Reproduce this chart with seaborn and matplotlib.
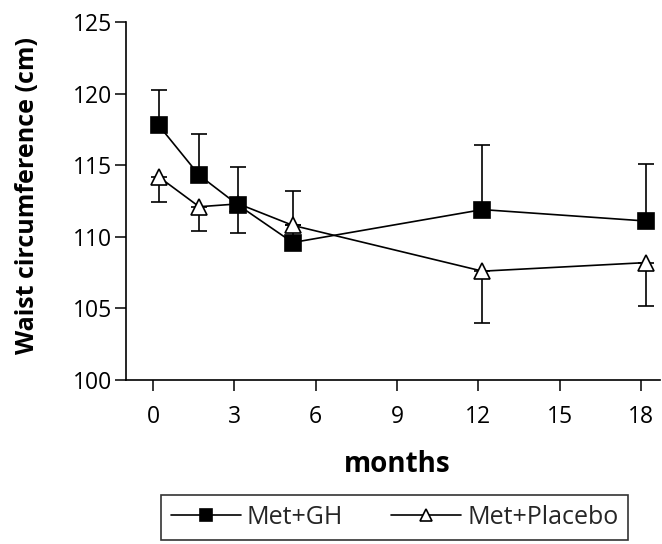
import matplotlib
matplotlib.use("Agg")
import matplotlib.pyplot as plt
import seaborn as sns
import numpy as np
import pandas as pd

# ---- data ----
months = [0.2, 1.7, 3.15, 5.15, 12.15, 18.2]
gh_mean = [117.8, 114.3, 112.2, 109.6, 111.9, 111.1]
gh_upper = [120.25, 117.2, 114.85, 113.2, 116.4, 115.1]
pl_mean = [114.2, 112.1, 112.3, 110.8, 107.6, 108.2]
pl_lower = [112.4, 110.4, 110.3, 110.8, 104.0, 105.2]
xticks = [0, 3, 6, 9, 12, 15, 18]
yticks = [100, 105, 110, 115, 120, 125]
series_names = ["Met+GH", "Met+Placebo"]

sns.set_theme(style="ticks")
plt.rcParams["font.family"] = ["Open Sans", "DejaVu Sans"]

fig = plt.figure(figsize=(6.62, 5.44), dpi=100)
ax = fig.add_axes([126 / 662, 1 - 380 / 544, (660 - 126) / 662, (380 - 22) / 544])

df = pd.DataFrame({
    "month": months * 2,
    "value": gh_mean + pl_mean,
    "group": [series_names[0]] * len(months) + [series_names[1]] * len(months),
})

lw = 1.2
ms = 11.5

# error bars (one-sided)
gh_err = [np.zeros(len(months)), np.array(gh_upper) - np.array(gh_mean)]
pl_err = [np.array(pl_mean) - np.array(pl_lower), np.zeros(len(months))]
ax.errorbar(months, pl_mean, yerr=pl_err, fmt="none", ecolor="black",
            elinewidth=lw, capsize=5.5, capthick=lw, zorder=2)
ax.errorbar(months, gh_mean, yerr=gh_err, fmt="none", ecolor="black",
            elinewidth=lw, capsize=5.5, capthick=lw, zorder=2)

sns.lineplot(data=df[df.group == series_names[1]], x="month", y="value",
             ax=ax, color="black", linewidth=lw, marker="^", markersize=ms,
             markerfacecolor="white", markeredgecolor="black", markeredgewidth=lw,
             label=series_names[1], zorder=3)
sns.lineplot(data=df[df.group == series_names[0]], x="month", y="value",
             ax=ax, color="black", linewidth=lw, marker="s", markersize=ms,
             markerfacecolor="black", markeredgecolor="black", markeredgewidth=lw,
             label=series_names[0], zorder=4)

ax.set_xlim(-1.0, 18.7)
ax.set_ylim(100, 125)
ax.set_xticks(xticks)
ax.set_yticks(yticks)
ax.tick_params(axis="both", labelsize=16.5, color="black", labelcolor="black",
               width=1.1, length=8, direction="out")
ax.tick_params(axis="x", pad=10)
ax.tick_params(axis="y", pad=2)
for s in ["top", "right"]:
    ax.spines[s].set_visible(False)
for s in ["left", "bottom"]:
    ax.spines[s].set_color("black")
    ax.spines[s].set_linewidth(1.2)

ax.set_xlabel("months", fontsize=20, fontweight="bold", color="black")
ax.set_ylabel("Waist circumference (cm)", fontsize=18, fontweight="bold", color="black")
ax.xaxis.set_label_coords((397 - 126) / 534, -0.195)
ax.yaxis.set_label_coords((40 - 126) / 534, 0.514)

handles, labels = ax.get_legend_handles_labels()
order = [labels.index(series_names[0]), labels.index(series_names[1])]
if ax.get_legend():
    ax.get_legend().remove()
leg = fig.legend([handles[i] for i in order], [labels[i] for i in order],
                 loc="center", bbox_to_anchor=(394.5 / 662, 1 - 517 / 544),
                 ncol=2, frameon=True, fancybox=False, fontsize=18,
                 handlelength=2.8, handletextpad=0.25, columnspacing=1.9,
                 borderpad=0.4, borderaxespad=0.0, edgecolor="black")
leg.get_frame().set_linewidth(1.2)
for h in leg.legend_handles:
    h.set_markersize(9)

fig.savefig("out.png", dpi=100)
